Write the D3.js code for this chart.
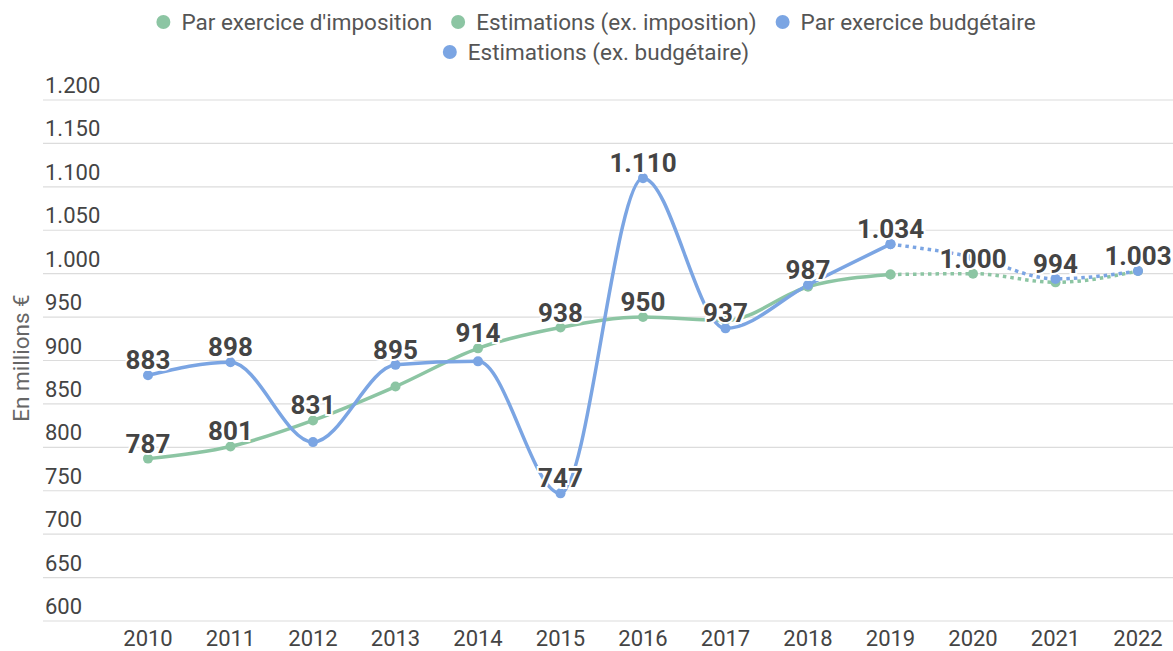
<!DOCTYPE html>
<html>
<head>
<meta charset="utf-8">
<script src="https://cdn.jsdelivr.net/npm/d3@7.9.0/dist/d3.min.js"></script>
<style>
  body { margin: 0; background: #fff; font-family: Roboto, sans-serif; }
  svg { display: block; }
</style>
</head>
<body>
<svg id="chart" width="1173" height="651"></svg>
<script>
// === Data ===
const years = [2010, 2011, 2012, 2013, 2014, 2015, 2016, 2017, 2018, 2019, 2020, 2021, 2022];
const imposition    = [787, 801, 831, 870, 914, 938, 950, 946, 985, 999, null, null, null];
const impositionEst = [null, null, null, null, null, null, null, null, null, 999, 1000, 990, 1003];
const budget        = [883, 898, 806, 895, 899, 747, 1110, 937, 987, 1034, null, null, null];
const budgetEst     = [null, null, null, null, null, null, null, null, null, 1034, 1019, 994, 1003];
// which points carry a visible value label (the others are hidden by overlap)
const impositionLabels    = [1, 1, 1, 0, 1, 1, 1, 0, 0, 0, 0, 0, 0];
const impositionEstLabels = [0, 0, 0, 0, 0, 0, 0, 0, 0, 0, 1, 0, 0];
const budgetLabels        = [1, 1, 0, 1, 0, 1, 1, 1, 1, 1, 0, 0, 0];
const budgetEstLabels     = [0, 0, 0, 0, 0, 0, 0, 0, 0, 0, 0, 1, 1];
const yTicks = [600, 650, 700, 750, 800, 850, 900, 950, 1000, 1050, 1100, 1150, 1200];

const green = '#8cc5a3';
const blue = '#7ba5e3';

const series = [
  { name: "Par exercice d'imposition", values: imposition, labels: impositionLabels, color: green, dotted: false },
  { name: 'Estimations (ex. imposition)', values: impositionEst, labels: impositionEstLabels, color: green, dotted: true },
  { name: 'Par exercice budgétaire', values: budget, labels: budgetLabels, color: blue, dotted: false },
  { name: 'Estimations (ex. budgétaire)', values: budgetEst, labels: budgetEstLabels, color: blue, dotted: true },
];

const locale = d3.formatLocale({ decimal: ',', thousands: '.', grouping: [3], currency: ['', ' €'] });
const fmt = locale.format(',d');

// === Scales ===
const svg = d3.select('#chart');
const x = d3.scalePoint().domain(years).range([148, 1138]);
const y = d3.scaleLinear().domain([600, 1200]).range([621, 100]);

// === Grid + y labels ===
const grid = svg.append('g');
yTicks.forEach((t) => {
  grid.append('line')
    .attr('x1', 43).attr('x2', 1173)
    .attr('y1', y(t)).attr('y2', y(t))
    .attr('stroke', '#dcdcdc').attr('stroke-width', 1.2);
  grid.append('text')
    .attr('x', 45).attr('y', y(t) - 7)
    .attr('font-size', 22).attr('fill', '#444')
    .text(fmt(t));
});

// x labels
years.forEach((yr) => {
  svg.append('text')
    .attr('x', x(yr)).attr('y', 646)
    .attr('text-anchor', 'middle')
    .attr('font-size', 22).attr('fill', '#444')
    .text(yr);
});

// axis title
svg.append('text')
  .attr('transform', 'translate(29,358) rotate(-90)')
  .attr('text-anchor', 'middle')
  .attr('font-size', 22.5).attr('fill', '#666')
  .text('En millions €');

// === Lines ===
const line = d3.line()
  .defined((d) => d.v != null)
  .x((d) => x(d.year))
  .y((d) => y(d.v))
  .curve(d3.curveMonotoneX);

series.forEach((s) => {
  const pts = years.map((yr, i) => ({ year: yr, v: s.values[i], show: s.labels[i] }));
  s.pts = pts;
  svg.append('path')
    .datum(pts)
    .attr('d', line)
    .attr('fill', 'none')
    .attr('stroke', s.color)
    .attr('stroke-width', 3.5)
    .attr('stroke-linecap', s.dotted ? 'butt' : 'round')
    .attr('stroke-dasharray', s.dotted ? '3.5,4' : null);
});

series.forEach((s) => {
  svg.append('g').selectAll('circle')
    .data(s.pts.filter((d) => d.v != null))
    .join('circle')
    .attr('cx', (d) => x(d.year))
    .attr('cy', (d) => y(d.v))
    .attr('r', 5)
    .attr('fill', s.color);
});

// value labels
series.forEach((s) => {
  svg.append('g').selectAll('text')
    .data(s.pts.filter((d) => d.v != null && d.show))
    .join('text')
    .attr('x', (d) => x(d.year))
    .attr('y', (d) => y(d.v) - 6)
    .attr('text-anchor', 'middle')
    .attr('font-size', 26).attr('font-weight', 700)
    .attr('fill', '#444')
    .attr('stroke', '#fff').attr('stroke-width', 4)
    .attr('paint-order', 'stroke')
    .text((d) => fmt(d.v));
});

// === Legend ===
const rows = [[0, 1, 2], [3]];
const legendCenter = 596;
rows.forEach((row, r) => {
  const g = svg.append('g');
  let cursor = 0;
  row.forEach((idx) => {
    const s = series[idx];
    const item = g.append('g').attr('transform', `translate(${cursor},0)`);
    item.append('circle').attr('cx', 7).attr('cy', 0).attr('r', 7).attr('fill', s.color);
    const t = item.append('text')
      .attr('x', 25).attr('y', 8)
      .attr('font-size', 22.5).attr('fill', '#555')
      .text(s.name);
    cursor += 25 + t.node().getComputedTextLength() + 19;
  });
  const width = cursor - 19;
  g.attr('transform', `translate(${legendCenter - width / 2},${22 + r * 30})`);
});
</script>
</body>
</html>
